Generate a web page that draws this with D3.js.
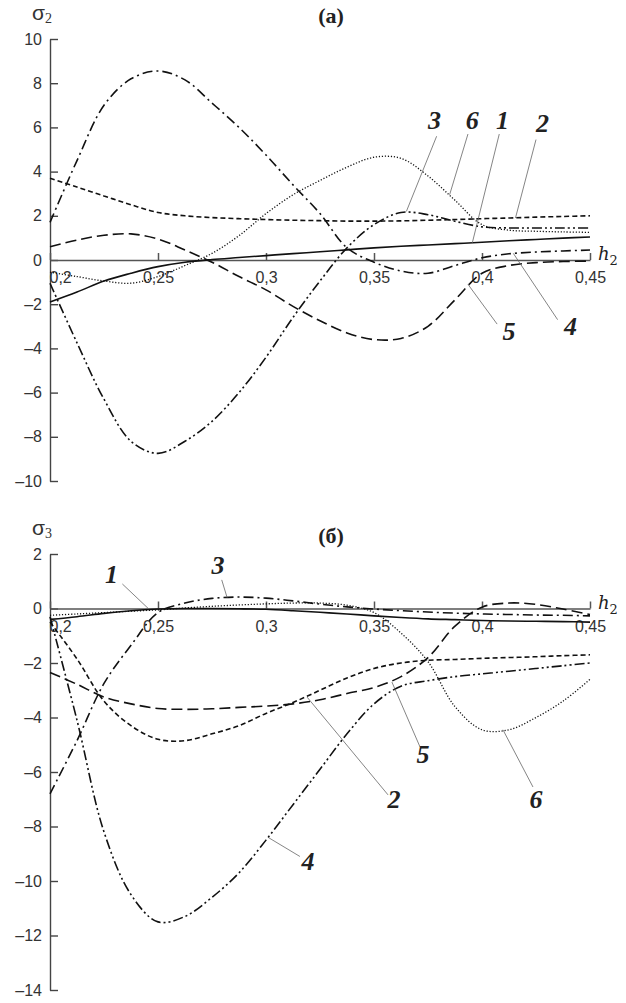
<!DOCTYPE html>
<html lang="ru">
<head>
<meta charset="utf-8">
<style>
  body { margin: 0; background: #fff; }
</style>
</head>
<body>
<div id="chart"></div>
<script src="https://cdnjs.cloudflare.com/ajax/libs/d3/7.8.5/d3.min.js"></script>
<script>
var WIDTH = 626;
var HEIGHT = 1003;

// h2 values, shared by every curve
var h2 = [0.2, 0.2125, 0.225, 0.2375, 0.25, 0.2625, 0.275, 0.2875, 0.3, 0.3125, 0.325,
          0.3375, 0.35, 0.3625, 0.375, 0.3875, 0.4, 0.4125, 0.425, 0.4375, 0.45];

// panel (а): sigma2, curves 1..6
var s2_1 = [-1.9, -1.45, -0.95, -0.6, -0.3, -0.1, 0.02, 0.11, 0.2, 0.29, 0.37, 0.46, 0.55, 0.62, 0.68, 0.74, 0.8, 0.87, 0.93, 0.99, 1.04];
var s2_2 = [3.7, 3.3, 2.9, 2.5, 2.15, 2.0, 1.92, 1.87, 1.83, 1.8, 1.78, 1.76, 1.76, 1.77, 1.8, 1.83, 1.87, 1.9, 1.94, 1.97, 2.0];
var s2_3 = [-1.05, -3.75, -6.3, -8.2, -8.75, -8.2, -7.3, -6.0, -4.4, -2.6, -0.95, 0.55, 1.6, 2.15, 2.05, 1.75, 1.5, 1.45, 1.45, 1.45, 1.45];
var s2_4 = [1.7, 4.5, 7.0, 8.2, 8.55, 8.15, 7.1, 6.0, 4.75, 3.4, 2.1, 0.55, -0.1, -0.5, -0.6, -0.25, 0.1, 0.28, 0.36, 0.41, 0.45];
var s2_5 = [0.6, 0.9, 1.12, 1.18, 0.95, 0.45, -0.1, -0.75, -1.35, -2.1, -2.75, -3.3, -3.6, -3.55, -3.0, -1.8, -0.6, -0.25, -0.12, -0.07, -0.05];
var s2_6 = [-0.55, -0.75, -0.95, -1.05, -0.75, -0.25, 0.3, 1.1, 2.1, 2.95, 3.6, 4.2, 4.65, 4.6, 3.8, 2.7, 1.6, 1.35, 1.3, 1.27, 1.25];

// panel (б): sigma3, curves 1..6
var s3_1 = [-0.4, -0.3, -0.18, -0.08, -0.02, 0.0, 0.0, -0.01, -0.03, -0.08, -0.14, -0.2, -0.27, -0.33, -0.38, -0.41, -0.44, -0.46, -0.47, -0.48, -0.5];
var s3_2 = [-0.5, -1.85, -3.4, -4.3, -4.8, -4.85, -4.6, -4.3, -3.85, -3.45, -3.0, -2.55, -2.2, -2.0, -1.9, -1.87, -1.83, -1.8, -1.77, -1.73, -1.7];
var s3_3 = [-6.8, -4.85, -2.75, -1.35, -0.15, 0.2, 0.37, 0.42, 0.38, 0.28, 0.16, 0.06, -0.02, -0.08, -0.13, -0.17, -0.2, -0.22, -0.24, -0.25, -0.27];
var s3_4 = [-0.3, -4.1, -8.2, -10.5, -11.5, -11.3, -10.6, -9.7, -8.5, -7.2, -5.9, -4.6, -3.5, -2.85, -2.65, -2.5, -2.4, -2.3, -2.2, -2.1, -2.0];
var s3_5 = [-2.35, -2.78, -3.25, -3.5, -3.67, -3.7, -3.68, -3.63, -3.58, -3.5, -3.35, -3.12, -2.9, -2.5, -1.8, -0.65, 0.05, 0.2, 0.15, -0.02, -0.22];
var s3_6 = [-0.25, -0.2, -0.15, -0.1, -0.05, 0.02, 0.08, 0.13, 0.17, 0.2, 0.2, 0.12, -0.15, -0.9, -1.95, -3.6, -4.45, -4.45, -4.0, -3.4, -2.6];

// tick values
var xTicks = [0.2, 0.25, 0.3, 0.35, 0.4, 0.45];
var yTicksTop = [10, 8, 6, 4, 2, 0, -2, -4, -6, -8, -10];
var yTicksBottom = [2, 0, -2, -4, -6, -8, -10, -12, -14];

// curve labels: [name, anchor h, anchor v, leader end h, leader end v, text h, text v]
var labelsTop = [
  ['3', 0.365, 2.2, 0.379, 5.6, 0.378, 5.95],
  ['6', 0.385, 2.95, 0.3935, 5.7, 0.3955, 5.95],
  ['1', 0.3955, 0.77, 0.408, 5.7, 0.4095, 5.95],
  ['2', 0.4155, 1.9, 0.425, 5.45, 0.428, 5.8],
  ['5', 0.3935, -1.1, 0.407, -2.9, 0.4125, -3.6],
  ['4', 0.4145, 0.3, 0.435, -2.7, 0.441, -3.4]
];
var labelsBottom = [
  ['1', 0.2455, 0.0, 0.2335, 0.9, 0.2285, 0.94],
  ['3', 0.282, 0.4, 0.2795, 1.05, 0.2778, 1.27],
  ['4', 0.301, -8.4, 0.3157, -9.1, 0.3194, -9.6],
  ['2', 0.319, -3.25, 0.3565, -6.84, 0.3593, -7.32],
  ['5', 0.3583, -2.7, 0.3713, -5.08, 0.3727, -5.67],
  ['6', 0.4097, -4.45, 0.4236, -6.55, 0.425, -7.32]
];

// line styles
var SOLID = null, SHORT = '5,3', LONG = '11,5', DASHDOT = '10,4,2,4', DASHDOT2 = '10,3,2,3,2,3', DOT = '1.2,1.8';

var svg = d3.select('#chart').append('svg')
  .attr('width', WIDTH).attr('height', HEIGHT)
  .style('background', '#fff');

var x = d3.scaleLinear().domain([0.2, 0.45]).range([50, 590]);

function drawPanel(opt) {
  var y = d3.scaleLinear().domain(opt.yDomain).range(opt.yRange);
  var g = svg.append('g');

  // y axis
  var ya = g.append('g').attr('transform', 'translate(50,0)')
    .call(d3.axisLeft(y).tickValues(opt.yTicks).tickSizeInner(-8).tickSizeOuter(0).tickPadding(8)
      .tickFormat(d => d < 0 ? '\u2013' + Math.abs(d) : d));
  ya.selectAll('path, line').attr('stroke', '#444').attr('stroke-width', 1.4);
  ya.selectAll('text').attr('font-family', 'Liberation Sans, Arial, sans-serif')
    .attr('font-size', 16).attr('fill', '#333');

  // x axis at zero
  var xa = g.append('g').attr('transform', 'translate(0,' + y(0) + ')')
    .call(d3.axisBottom(x).tickValues(xTicks).tickSizeInner(-7).tickSizeOuter(0).tickPadding(12)
      .tickFormat(d => String(d).replace('.', ',')));
  xa.selectAll('path, line').attr('stroke', '#555').attr('stroke-width', 1.5);
  xa.selectAll('text').attr('font-family', 'Liberation Sans, Arial, sans-serif')
    .attr('font-size', 16).attr('fill', '#333');
  xa.selectAll('.tick').filter(d => d === 0.2).select('text')
    .attr('text-anchor', 'start').attr('x', -1);

  // curves
  var line = d3.line()
    .x((d, i) => x(h2[i]))
    .y(d => y(d))
    .curve(d3.curveCatmullRom.alpha(0.5));
  g.selectAll('path.curve').data(opt.series).join('path')
    .attr('class', 'curve')
    .attr('d', d => line(d.values))
    .attr('fill', 'none')
    .attr('stroke', '#111')
    .attr('stroke-width', d => d.dash === DOT ? 1.3 : 1.6)
    .attr('stroke-dasharray', d => d.dash);

  // leader lines and curve numbers
  g.selectAll('line.leader').data(opt.labels).join('line')
    .attr('class', 'leader')
    .attr('x1', d => x(d[1])).attr('y1', d => y(d[2]))
    .attr('x2', d => x(d[3])).attr('y2', d => y(d[4]))
    .attr('stroke', '#666').attr('stroke-width', 0.8);
  g.selectAll('text.num').data(opt.labels).join('text')
    .attr('class', 'num')
    .attr('x', d => x(d[5])).attr('y', d => y(d[6]))
    .attr('text-anchor', 'middle')
    .attr('font-family', 'Liberation Serif, Times New Roman, serif')
    .attr('font-style', 'italic').attr('font-weight', 'bold')
    .attr('font-size', 26).attr('fill', '#222')
    .text(d => d[0]);

  // h2 axis label
  var hl = g.append('text').attr('x', 598).attr('y', y(0))
    .attr('font-family', 'DejaVu Serif, serif').attr('font-style', 'italic')
    .attr('font-size', 18).attr('fill', '#222');
  hl.append('tspan').text('h');
  hl.append('tspan').attr('dy', 5).attr('font-size', 13).attr('font-style', 'normal').text('2');

  // sigma label
  var sl = g.append('text').attr('x', 32).attr('y', opt.sigmaY)
    .attr('font-family', 'Liberation Sans, Arial, sans-serif')
    .attr('font-size', 21).attr('fill', '#333');
  sl.append('tspan').text('\u03c3');
  sl.append('tspan').attr('dy', 3).attr('font-size', 14)
    .attr('font-family', 'Liberation Serif, serif').text(opt.sub);

  // panel title
  g.append('text').attr('x', 331).attr('y', opt.titleY)
    .attr('text-anchor', 'middle')
    .attr('font-family', 'Liberation Serif, Times New Roman, serif')
    .attr('font-weight', 'bold').attr('font-size', 22).attr('fill', '#222')
    .text(opt.title);
}

drawPanel({
  yDomain: [-10, 10], yRange: [481, 39], yTicks: yTicksTop,
  title: '(а)', titleY: 23, sigmaY: 20, sub: '2',
  series: [
    {values: s2_1, dash: SOLID}, {values: s2_2, dash: SHORT}, {values: s2_3, dash: DASHDOT2},
    {values: s2_4, dash: DASHDOT}, {values: s2_5, dash: LONG}, {values: s2_6, dash: DOT}
  ],
  labels: labelsTop
});

drawPanel({
  yDomain: [-14, 2], yRange: [990, 554], yTicks: yTicksBottom,
  title: '(б)', titleY: 543, sigmaY: 535, sub: '3',
  series: [
    {values: s3_1, dash: SOLID}, {values: s3_2, dash: SHORT}, {values: s3_3, dash: DASHDOT},
    {values: s3_4, dash: DASHDOT2}, {values: s3_5, dash: LONG}, {values: s3_6, dash: DOT}
  ],
  labels: labelsBottom
});
</script>
</body>
</html>
